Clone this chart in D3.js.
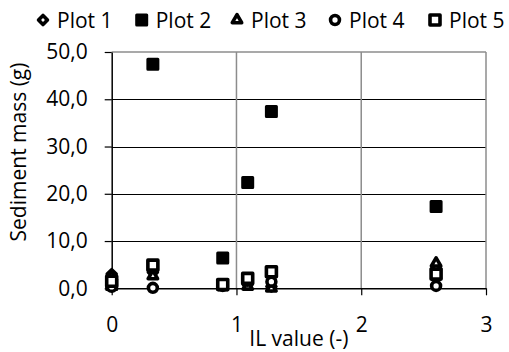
<!DOCTYPE html>
<html>
<head>
<meta charset="utf-8">
<script src="https://d3js.org/d3.v7.min.js"></script>
<style>
    body { margin: 0; background: #fff; }
    svg text { font-family: "Open Sans", sans-serif; fill: #000; }
    .grid-h { stroke: #000; stroke-width: 1; }
    .grid-v { stroke: #8c8c8c; stroke-width: 1.5; }
</style>
</head>
<body>
<svg id="chart"></svg>
<script>
    // data
    var ilValues = [0, 0.33, 0.89, 1.09, 1.28, 2.6];
    var plot1 = [3.0, 3.4, 0.6, 0.8, 0.4, 4.2];
    var plot2 = [0.8, 47.4, 6.4, 22.4, 37.4, 17.3];
    var plot3 = [2.5, 2.6, 0.3, 0.4, 0.0, 5.3];
    var plot4 = [0.3, 0.1, 0.5, 1.6, 1.4, 0.5];
    var plot5 = [1.5, 4.9, 0.8, 2.1, 3.5, 3.0];
    var seriesNames = ["Plot 1", "Plot 2", "Plot 3", "Plot 4", "Plot 5"];
    var seriesMarkers = ["diamond", "filled", "triangle", "circle", "square"];
    var xTicks = [0, 1, 2, 3];
    var yTicks = [0, 10, 20, 30, 40, 50];

    var Width = 509, Height = 352;
    var Left = 111.7, Right = 486, Top = 52, Bottom = 288.3;
    var FontSize = 21;

    var svg = d3.select("#chart").attr("width", Width).attr("height", Height);

    var x = d3.scaleLinear().domain([0, 3]).range([Left, Right]);
    var y = d3.scaleLinear().domain([0, 50]).range([Bottom, Top]);

    var allSeries = [plot1, plot2, plot3, plot4, plot5].map(function(vals, i){
        return {
            name: seriesNames[i],
            marker: seriesMarkers[i],
            points: vals.map(function(v, j){ return {x: ilValues[j], y: v}; })
        };
    });

    // gridlines
    svg.append("g").selectAll("line")
        .data(yTicks.filter(function(d){ return d > 0 && d < 50; }))
        .enter().append("line").attr("class", "grid-h")
            .attr("x1", Left).attr("x2", Right)
            .attr("y1", function(d){ return Math.round(y(d)) + 0.5; })
            .attr("y2", function(d){ return Math.round(y(d)) + 0.5; });

    svg.append("line").attr("class", "grid-v")
        .attr("x1", Left).attr("x2", Right)
        .attr("y1", y(50)).attr("y2", y(50));

    svg.append("g").selectAll("line")
        .data(xTicks.filter(function(d){ return d > 0; }))
        .enter().append("line").attr("class", "grid-v")
            .attr("x1", function(d){ return x(d); })
            .attr("x2", function(d){ return x(d); })
            .attr("y1", Top).attr("y2", Bottom);

    // axes
    var fmt = function(d){ return d3.format(".1f")(d).replace(".", ","); };

    var yAxis = svg.append("g")
        .attr("transform", "translate(" + Left + ",0)")
        .call(d3.axisLeft(y).tickValues(yTicks).tickFormat(fmt)
            .tickSize(7).tickSizeOuter(0).tickPadding(17));

    var xAxis = svg.append("g")
        .attr("transform", "translate(0," + Bottom + ")")
        .call(d3.axisBottom(x).tickValues(xTicks).tickFormat(d3.format("d"))
            .tickSize(7).tickSizeOuter(0).tickPadding(22));

    [yAxis, xAxis].forEach(function(a){
        a.selectAll("text").attr("font-size", FontSize).attr("font-family", null).attr("fill", "#000");
        a.select(".domain").attr("stroke", "#000").attr("stroke-width", 1.5);
        a.selectAll(".tick line").attr("stroke", "#000").attr("stroke-width", 1.2);
    });

    // axis titles
    svg.append("text")
        .attr("x", (Left + Right) / 2).attr("y", 346)
        .attr("text-anchor", "middle").attr("font-size", FontSize)
        .text("IL value (-)");

    svg.append("text")
        .attr("transform", "translate(26,152) rotate(-90)")
        .attr("text-anchor", "middle").attr("font-size", FontSize)
        .text("Sediment mass (g)");

    // markers
    function markerPath(type)
    {
        if (type === "diamond") return d3.symbol().type(d3.symbolSquare).size(40)();
        if (type === "triangle") return d3.symbol().type(d3.symbolTriangle).size(38)();
        if (type === "circle") return d3.symbol().type(d3.symbolCircle).size(62)();
        return d3.symbol().type(d3.symbolSquare).size(100)();
    }

    function drawMarker(sel, type)
    {
        sel.append("path")
            .attr("d", markerPath(type))
            .attr("transform", type === "diamond" ? "rotate(45)" : null)
            .attr("fill", type === "filled" ? "#000" : "#fff")
            .attr("stroke", "#000")
            .attr("stroke-width", type === "filled" ? 3 : 3.6)
            .attr("stroke-linejoin", "round");
    }

    allSeries.forEach(function(s){
        svg.append("g").selectAll("g")
            .data(s.points)
            .enter().append("g")
                .attr("transform", function(d){ return "translate(" + x(d.x) + "," + y(d.y) + ")"; })
                .each(function(){ drawMarker(d3.select(this), s.marker); });
    });

    // legend
    var legendX = [43, 141.7, 237, 335, 435];
    var legend = svg.append("g").selectAll("g")
        .data(allSeries)
        .enter().append("g")
            .attr("transform", function(d, i){ return "translate(" + legendX[i] + ",20)"; });

    legend.each(function(d){ drawMarker(d3.select(this), d.marker); });

    legend.append("text")
        .attr("x", 14).attr("y", 7.5)
        .attr("font-size", FontSize)
        .text(function(d){ return d.name; });
</script>
</body>
</html>
